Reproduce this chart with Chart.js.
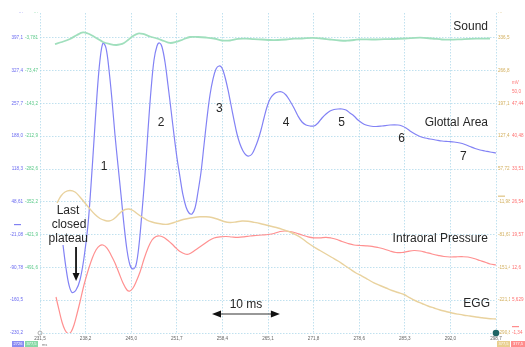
<!DOCTYPE html>
<html>
<head>
<meta charset="utf-8">
<script src="https://cdn.jsdelivr.net/npm/chart.js@4.4.1/dist/chart.umd.min.js"></script>
<style>
  html, body { margin: 0; padding: 0; background: #ffffff; }
  #wrap { width: 525px; height: 347px; }
</style>
</head>
<body>
<div id="wrap"><canvas id="c" width="525" height="347"></canvas></div>
<script>
// ---------- data (time in ms, values in each channel's own units) ----------
const xTickValues = [231.5, 238.22, 244.94, 251.66, 258.38, 265.1, 271.82, 278.54, 285.26, 291.98, 298.7];
const xTickLabels = ['231,5','238,2','245,0','251,7','258,4','265,1','271,8','278,6','285,3','292,0','298,7'];

const areaTicks = [-230.2, -160.5, -90.78, -21.08, 48.61, 118.3, 188.0, 257.7, 327.4, 397.1];
const areaTickLabels = ['-230,2','-160,5','-90,78','-21,08','48,61','118,3','188,0','257,7','327,4','397,1'];
const soundTicks = [-491.6, -421.9, -352.2, -282.6, -212.9, -143.2, -73.47, -3.781];
const soundTickLabels = ['-491,6','-421,9','-352,2','-282,6','-212,9','-143,2','-73,47','-3,781'];
const eggTicks = [-290.8, -221.1, -151.4, -81.67, -11.98, 57.72, 127.4, 197.1, 266.8, 336.5];
const eggTickLabels = ['-290,8','-221,1','-151,4','-81,67','-11,98','57,72','127,4','197,1','266,8','336,5'];
const pressureTicks = [-1.34, 5.629, 12.6, 19.57, 26.54, 33.51, 40.48, 47.44];
const pressureTickLabels = ['-1,34','5,629','12,6','19,57','26,54','33,51','40,48','47,44'];

const glottalTime = [234.89,235.33,235.77,236.22,236.81,237.39,237.98,238.57,239.02,239.46,
  239.90,240.34,240.78,241.23,241.67,242.11,242.55,242.99,243.44,243.88,
  244.32,244.76,245.21,245.65,246.09,246.53,246.97,247.42,247.86,248.30,
  248.74,249.11,249.48,249.92,250.36,250.81,251.25,251.69,252.13,252.57,
  253.02,253.46,253.90,254.34,254.78,255.23,255.67,256.11,256.55,257.00,
  257.44,257.88,258.32,258.76,259.21,259.65,260.09,260.53,260.97,261.42,
  261.86,262.30,262.74,263.18,263.63,264.07,264.51,264.95,265.40,265.98,
  266.57,267.16,267.75,268.34,268.93,269.52,270.11,270.70,271.29,271.88,
  272.47,273.06,273.65,274.24,274.83,275.42,276.01,276.60,277.18,277.77,
  278.36,278.95,279.54,280.13,281.02,281.90,283.08,284.26,284.85,285.44,
  286.03,286.76,287.50,288.24,288.97,289.86,290.74,291.63,292.51,293.40,
  294.13,294.87,295.61,296.34,297.08,297.82,298.70];
const glottalArea = [-43.2,-92.1,-128.2,-144.1,-138.8,-117.6,-70.8,-0.7,84.3,179.9,
  275.6,349.9,386.1,375.4,328.7,264.9,190.6,126.8,63.1,-0.7,
  -53.8,-85.7,-94.2,-85.7,-43.2,26.9,105.6,201.2,286.2,349.9,
  379.7,386.1,377.6,345.7,296.8,243.7,190.6,141.7,101.3,63.1,
  37.6,24.8,22.7,35.4,69.4,111.9,169.3,226.7,275.6,309.6,
  330.8,337.2,332.9,313.8,286.2,254.3,222.4,192.7,171.4,156.6,
  148.1,145.9,150.2,162.9,179.9,201.2,226.7,250.1,267.1,277.7,
  281.9,281.9,275.6,262.8,247.9,230.9,218.2,211.8,209.7,209.7,
  216.1,226.7,235.2,241.6,244.7,245.8,245.8,243.7,237.3,230.9,
  222.4,216.1,211.8,209.7,208.6,209.7,211.8,211.8,209.7,205.4,
  199.1,192.7,187.4,184.2,182.1,179.9,177.8,176.7,175.7,173.6,
  170.4,166.1,161.9,158.7,156.6,154.4,152.3];

const soundTime = [233.71,234.74,235.92,236.95,237.84,238.57,239.31,240.05,240.78,241.82,
  242.70,243.29,243.88,244.47,245.21,245.94,246.68,247.71,248.74,249.77,
  250.66,251.54,252.57,253.61,254.78,255.96,257.14,258.32,259.50,260.68,
  261.86,263.04,264.22,265.40,266.57,267.75,268.93,270.11,271.73,273.06,
  274.24,275.71,276.74,277.77,278.66,280.43,282.20,283.52,285.29,287.50,
  289.27,290.74,291.92,293.40,294.87,296.34,297.82];
const soundVals = [-17.0,-12.7,-6.3,2.2,7.5,5.3,0.0,-6.3,-12.7,-17.0,
  -19.1,-18.0,-14.8,-8.5,0.0,5.3,4.3,-1.0,-5.3,-10.6,
  -14.8,-12.7,-7.4,-2.1,-2.1,-3.2,-5.3,-9.5,-9.5,-5.9,
  -5.5,-6.8,-7.4,-8.5,-8.5,-7.4,-5.7,-5.3,-3.8,-5.3,
  -7.4,-9.5,-10.0,-8.5,-7.0,-7.4,-6.8,-6.3,-5.3,-3.6,
  -5.3,-7.4,-7.8,-7.0,-5.9,-5.7,-5.3];

const eggTime = [234.01,234.59,235.18,235.92,236.66,237.39,238.13,238.87,239.61,240.34,
  241.08,241.67,242.26,242.85,243.44,244.03,244.62,245.21,245.79,246.53,
  247.27,248.01,248.74,249.63,250.36,251.25,252.13,253.16,254.19,255.08,
  255.96,256.85,257.73,258.62,259.50,260.38,261.27,262.15,263.04,263.92,
  264.81,265.69,266.57,267.46,268.34,269.23,270.11,271.00,271.88,272.76,
  273.65,274.53,275.42,276.30,277.18,278.07,278.95,279.84,280.72,281.61,
  282.49,283.37,284.26,285.14,286.03,286.91,287.80,288.68,289.56,290.45,
  291.33,292.22,293.10,293.98,294.87,295.75,296.64,297.52,298.70];
const eggVals = [-14.5,0.3,8.8,12.0,8.8,-1.8,-14.5,-27.3,-39.0,-47.5,
  -51.7,-52.8,-49.6,-42.2,-33.7,-28.4,-27.3,-30.5,-36.9,-44.3,
  -50.7,-54.9,-57.7,-59.6,-59.6,-56.0,-51.7,-48.1,-45.4,-43.9,
  -43.9,-45.4,-49.0,-53.9,-56.0,-54.9,-52.8,-53.4,-55.6,-58.1,
  -61.3,-64.5,-67.7,-71.9,-76.2,-82.5,-90.0,-99.5,-108.0,-115.5,
  -122.9,-130.4,-137.8,-146.3,-154.8,-163.3,-169.7,-177.1,-184.5,-189.9,
  -195.2,-200.5,-204.7,-209.0,-216.4,-222.8,-228.1,-233.4,-237.7,-241.9,
  -245.1,-248.3,-250.8,-253.0,-254.7,-256.8,-258.5,-260.0,-261.0];

const pressureTime = [233.86,234.30,234.74,235.18,235.63,236.07,236.51,236.95,237.39,237.98,
  238.57,239.16,239.75,240.34,240.78,241.37,241.96,242.55,243.14,243.73,
  244.32,244.76,245.21,245.65,246.24,246.83,247.42,248.01,248.60,249.18,
  249.77,250.36,250.95,251.54,252.13,252.87,253.46,254.19,254.93,255.67,
  256.41,257.14,258.03,258.91,259.80,260.68,261.56,262.45,263.33,264.22,
  265.10,265.98,266.87,267.61,268.34,269.23,270.11,271.00,271.88,272.76,
  273.65,274.39,275.27,276.01,276.89,277.77,278.66,279.54,280.43,281.31,
  282.20,283.08,283.96,284.85,285.73,286.62,287.50,288.38,289.27,290.15,
  291.04,291.92,292.81,293.69,294.57,295.46,296.34,297.23,297.82,298.70];
const pressureVals = [6.31,3.55,1.00,-0.70,-1.45,-1.13,0.36,2.70,5.25,8.86,
  11.84,14.39,16.30,17.25,17.36,16.72,15.24,13.54,11.41,9.29,
  7.80,7.59,8.22,9.50,11.62,14.39,16.72,18.42,19.17,19.27,
  18.95,18.32,17.57,16.72,15.98,15.45,15.45,16.09,16.83,17.57,
  18.32,18.85,19.10,19.17,19.06,19.00,19.10,19.27,19.38,19.49,
  19.59,19.80,20.23,20.34,20.23,19.91,19.49,19.10,18.89,18.89,
  19.00,18.85,18.53,18.10,17.68,17.36,17.25,17.19,17.08,16.83,
  16.51,16.09,15.77,15.77,16.02,16.19,16.09,15.77,15.45,15.17,
  14.92,14.81,14.85,14.87,14.81,14.49,14.07,13.64,13.32,13.11];

// annotations: positions in (ms, glottal-area units)
const noteTexts = ['Sound','Glottal Area','Intraoral Pressure','EGG','1','2','3','4','5','6','7','Last','closed','plateau','10 ms'];
const noteTime  = [297.52, 297.52, 297.52, 297.82, 240.93, 249.33, 257.92, 267.75, 275.96, 284.80, 293.88, 235.63, 235.77, 235.67, 261.86];
const noteValue = [420.1, 216.7, -29.0, -168.6, 122.6, 216.1, 247.3, 216.7, 216.7, 183.5, 144.4, 29.7, 0.8, -30.4, -170.7];
const noteAlign = ['right','right','right','right','center','center','center','center','center','center','center','center','center','center','center'];
const plateauArrow = {time: 236.81, from: -47.5, to: -119.7};
const spanArrow = {from: 256.85, to: 266.85, value: -189.8};

// ---------- chart ----------
const FONT = '"Liberation Sans", Arial, sans-serif';
const gridColor = 'rgba(165,212,232,0.7)';

function pts(t, v) { return t.map((x, i) => ({x: x, y: v[i]})); }

function fixedTicks(values, labels, withTop) {
  return {
    afterBuildTicks(scale) {
      const arr = values.map(v => ({value: v}));
      if (withTop) arr.push({value: scale.max});
      scale.ticks = arr;
    },
    label(value, index) {
      return index < labels.length ? labels[index] : '\u00b7\u00b7\u00b7';
    }
  };
}
const fA = fixedTicks(areaTicks, areaTickLabels, true);
const fS = fixedTicks(soundTicks, soundTickLabels, true);
const fE = fixedTicks(eggTicks, eggTickLabels, true);
const fP = fixedTicks(pressureTicks, pressureTickLabels, false);

function yAxis(pos, weight, min, max, f, color, width, grid) {
  return {
    type: 'linear', position: pos, weight: weight, min: min, max: max,
    afterBuildTicks: f.afterBuildTicks,
    afterFit: s => { s.width = width; },
    border: {display: false, dash: [1.5, 1.5]},
    grid: grid ? {
      display: true, drawTicks: false, lineWidth: 1,
      color: ctx => (ctx.tick && ctx.tick.value > 440) ? 'rgba(0,0,0,0)' : gridColor
    } : {display: false, drawTicks: false},
    ticks: {
      autoSkip: false, padding: 2, color: color,
      font: {family: FONT, size: 4.6},
      callback: f.label
    }
  };
}

const annotate = {
  id: 'annotate',
  afterDraw(chart) {
    const ctx = chart.ctx;
    const xs = chart.scales.x, ya = chart.scales.yArea;
    const ye = chart.scales.yEgg, yp = chart.scales.yPress;
    const ca = chart.chartArea;
    ctx.save();
    ctx.setLineDash([]);
    ctx.fillStyle = '#262626';
    ctx.font = '12px ' + FONT;
    ctx.textBaseline = 'middle';
    noteTexts.forEach((t, i) => {
      ctx.textAlign = noteAlign[i];
      ctx.fillText(t, xs.getPixelForValue(noteTime[i]), ya.getPixelForValue(noteValue[i]));
    });
    // plateau arrow
    ctx.strokeStyle = '#111'; ctx.fillStyle = '#111'; ctx.lineWidth = 1.8;
    const ax = xs.getPixelForValue(plateauArrow.time);
    const a1 = ya.getPixelForValue(plateauArrow.from), a2 = ya.getPixelForValue(plateauArrow.to);
    ctx.beginPath(); ctx.moveTo(ax, a1); ctx.lineTo(ax, a2 - 7); ctx.stroke();
    ctx.beginPath(); ctx.moveTo(ax - 3.5, a2 - 8); ctx.lineTo(ax + 3.5, a2 - 8); ctx.lineTo(ax, a2); ctx.closePath(); ctx.fill();
    // 10 ms arrow
    const sx1 = xs.getPixelForValue(spanArrow.from), sx2 = xs.getPixelForValue(spanArrow.to);
    const sy = ya.getPixelForValue(spanArrow.value);
    ctx.lineWidth = 1.2; ctx.strokeStyle = '#333';
    ctx.beginPath(); ctx.moveTo(sx1 + 8, sy); ctx.lineTo(sx2 - 8, sy); ctx.stroke();
    ctx.fillStyle = '#111';
    ctx.beginPath(); ctx.moveTo(sx1, sy); ctx.lineTo(sx1 + 9, sy - 3.5); ctx.lineTo(sx1 + 9, sy + 3.5); ctx.closePath(); ctx.fill();
    ctx.beginPath(); ctx.moveTo(sx2, sy); ctx.lineTo(sx2 - 9, sy - 3.5); ctx.lineTo(sx2 - 9, sy + 3.5); ctx.closePath(); ctx.fill();
    // zero-level markers on the axes
    ctx.lineWidth = 1;
    ctx.strokeStyle = '#6a6af0';
    let z = ya.getPixelForValue(0);
    ctx.beginPath(); ctx.moveTo(14, z); ctx.lineTo(21, z); ctx.stroke();
    ctx.strokeStyle = '#d9b767';
    z = ye.getPixelForValue(0);
    ctx.beginPath(); ctx.moveTo(ca.right + 2, z); ctx.lineTo(ca.right + 9, z); ctx.stroke();
    ctx.strokeStyle = '#ff7373';
    z = yp.getPixelForValue(0);
    ctx.beginPath(); ctx.moveTo(ca.right + 16, z); ctx.lineTo(ca.right + 23, z); ctx.stroke();
    // unit text on pressure axis
    ctx.fillStyle = '#ff7373'; ctx.font = '4.6px ' + FONT; ctx.textAlign = 'left';
    ctx.fillText('mV', yp.left + 2, yp.getPixelForValue(51.8));
    ctx.fillText('50,0', yp.left + 2, yp.getPixelForValue(50.0));
    // cursor markers
    ctx.strokeStyle = '#999'; ctx.lineWidth = 0.8;
    ctx.beginPath(); ctx.arc(ca.left, ca.bottom, 2, 0, Math.PI * 2); ctx.stroke();
    ctx.fillStyle = '#1f6464';
    ctx.beginPath(); ctx.arc(ca.right, ca.bottom, 3.3, 0, Math.PI * 2); ctx.fill();
    // channel chips
    const chips = [
      [12, 12, '#8b8bf2'], [25, 13, '#86d9a6'],
      [ca.right + 1, 13, '#e9cf8e'], [ca.right + 15, 14, '#ff8c8c']
    ];
    chips.forEach(c => { ctx.fillStyle = c[2]; ctx.fillRect(c[0], 341, c[1], 6); });
    ctx.fillStyle = '#ffffff'; ctx.font = '4px ' + FONT; ctx.textAlign = 'center';
    ctx.fillText('2726', 18, 344.2);
    ctx.fillText('377,5', 31.5, 344.2);
    ctx.fillText('377,5', ca.right + 7.5, 344.2);
    ctx.fillText('377,5', ca.right + 22, 344.2);
    ctx.fillStyle = '#777'; ctx.textAlign = 'left';
    ctx.fillText('ms', ca.left + 2, 345);
    ctx.restore();
  }
};

new Chart(document.getElementById('c'), {
  type: 'line',
  data: {
    datasets: [
      {label: 'Sound', data: pts(soundTime, soundVals), yAxisID: 'ySound',
       borderColor: '#a0dfbd', borderWidth: 1.8, pointRadius: 0, tension: 0.35},
      {label: 'EGG', data: pts(eggTime, eggVals), yAxisID: 'yEgg',
       borderColor: '#e9d29e', borderWidth: 1.4, pointRadius: 0, tension: 0.35},
      {label: 'Intraoral Pressure', data: pts(pressureTime, pressureVals), yAxisID: 'yPress',
       borderColor: '#ff9090', borderWidth: 1.2, pointRadius: 0, tension: 0.35},
      {label: 'Glottal Area', data: pts(glottalTime, glottalArea), yAxisID: 'yArea',
       borderColor: '#8282f5', borderWidth: 1.2, pointRadius: 0, tension: 0.35}
    ]
  },
  options: {
    responsive: false,
    devicePixelRatio: 1,
    animation: false,
    layout: {padding: {top: 13, left: 0, right: 0, bottom: 0}},
    plugins: {legend: {display: false}, tooltip: {enabled: false}},
    scales: {
      x: {
        type: 'linear', position: 'bottom', min: 231.5, max: 298.7,
        afterBuildTicks: s => { s.ticks = xTickValues.map(v => ({value: v})); },
        afterFit: s => { s.height = 14; },
        border: {display: false, dash: [1.5, 1.5]},
        grid: {display: true, drawTicks: false, color: gridColor, lineWidth: 1},
        ticks: {autoSkip: false, maxRotation: 0, padding: 3, color: '#666',
                font: {family: FONT, size: 4.6},
                callback: (v, i) => xTickLabels[i]}
      },
      yArea: yAxis('left', 2, -230.2, 449.8, fA, '#6a6af0', 25, true),
      ySound: yAxis('left', 1, -631.1, 48.9, fS, '#5cc98a', 15, false),
      yEgg: yAxis('right', 1, -290.8, 389.2, fE, '#d2ae5c', 14, false),
      yPress: yAxis('right', 2, -1.34, 66.66, fP, '#ff7070', 15, false)
    }
  },
  plugins: [annotate]
});
</script>
</body>
</html>
